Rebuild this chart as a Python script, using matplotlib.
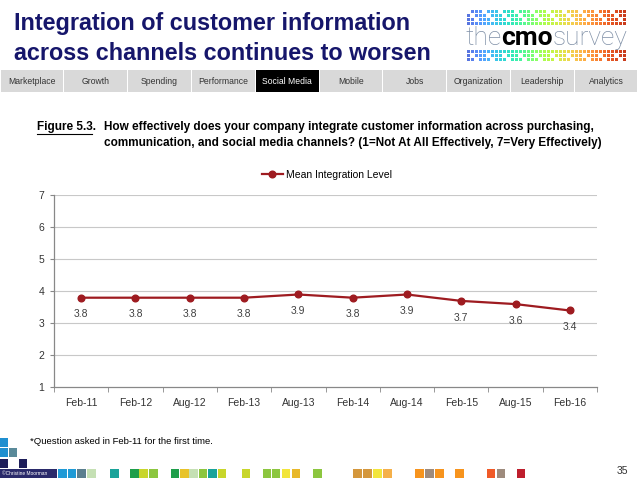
import matplotlib
matplotlib.use("Agg")
import matplotlib.pyplot as plt
from matplotlib.patches import Rectangle
import numpy as np

# ---------------- data ----------------
categories = ["Feb-11", "Feb-12", "Aug-12", "Feb-13", "Aug-13", "Feb-14",
              "Aug-14", "Feb-15", "Aug-15", "Feb-16"]
mean_integration = [3.8, 3.8, 3.8, 3.8, 3.9, 3.8, 3.9, 3.7, 3.6, 3.4]
series_name = "Mean Integration Level"
y_ticks = [1, 2, 3, 4, 5, 6, 7]
nav_items = ["Marketplace", "Growth", "Spending", "Performance", "Social Media",
             "Mobile", "Jobs", "Organization", "Leadership", "Analytics"]
active_nav = "Social Media"
title_lines = ["Integration of customer information",
               "across channels continues to worsen"]
fig_label = "Figure 5.3."
question_lines = ["How effectively does your company integrate customer information across purchasing,",
                  "communication, and social media channels? (1=Not At All Effectively, 7=Very Effectively)"]
footnote = "*Question asked in Feb-11 for the first time."
page_number = "35"

W, H = 638, 479
NARROW = ["Liberation Sans Narrow", "Liberation Sans", "DejaVu Sans"]
SANS = ["Liberation Sans", "DejaVu Sans"]

fig = plt.figure(figsize=(W / 100, H / 100), dpi=100)
fig.patch.set_facecolor("white")

# overlay axes in pixel coordinates
ov = fig.add_axes([0, 0, 1, 1], zorder=0)
ov.set_xlim(0, W)
ov.set_ylim(H, 0)
ov.axis("off")

# ---- title ----
navy = "#16166b"
ov.text(14, 23, title_lines[0], fontsize=16.8, fontweight="bold", color=navy,
        family=SANS, va="center", ha="left")
ov.text(14, 53, title_lines[1], fontsize=16.8, fontweight="bold", color=navy,
        family=SANS, va="center", ha="left")

# ---- logo ----
logo_cmap = matplotlib.colormaps["turbo"]
ncol = 40
for row, y0 in enumerate([10, 14, 18, 22, 50, 54, 58, 62]):
    for c in range(ncol):
        if (c * 7 + row * 5) % 4 == 0 and row not in (3, 4):
            continue
        if row in (0, 7) and (c * 3 + row) % 3 != 0:
            continue
        col = logo_cmap(0.12 + 0.8 * c / ncol)
        ov.add_patch(Rectangle((467 + c * 4.0, y0), 2.8, 2.8, color=col, lw=0, alpha=0.9))
RB = ["Roboto", "DejaVu Sans"]
ov.text(465, 38, "the", fontsize=19, color="#7f8fa6", family=RB,
        fontweight="light", va="center", ha="left")
ov.text(501, 38, "cmo", fontsize=19, color="black", family=RB,
        fontweight="bold", va="center", ha="left")
ov.text(553, 38, "survey", fontsize=19, color="#7f8fa6", family=RB,
        fontweight="light", va="center", ha="left")

# ---- nav bar ----
bw = W / len(nav_items)
for i, item in enumerate(nav_items):
    active = item == active_nav
    ov.add_patch(Rectangle((i * bw + 0.5, 70), bw - 1, 22,
                           color="black" if active else "#d9d9d9", lw=0))
    ov.text(i * bw + bw / 2, 81.5, item, fontsize=6.2, family=NARROW,
            color="white" if active else "#333333", ha="center", va="center")

# ---- caption ----
cap_fs = 8.5
ov.text(37, 127, fig_label, fontsize=cap_fs, fontweight="bold", family=NARROW,
        color="black", ha="left", va="center")
ov.plot([37, 92], [133.5, 133.5], color="black", lw=0.8)
ov.text(104, 127, question_lines[0], fontsize=cap_fs, fontweight="bold", family=NARROW,
        color="black", ha="left", va="center")
ov.text(104, 143, question_lines[1], fontsize=cap_fs, fontweight="bold", family=NARROW,
        color="black", ha="left", va="center")

# ---- footer ----
ov.text(30, 442, footnote, fontsize=6.8, family=NARROW, color="black",
        ha="left", va="center")
ov.text(622, 471, page_number, fontsize=7.5, family=SANS, color="#333333",
        ha="center", va="center")

# left decorative squares
left_sq = [(0, 438, "#1f8fd0"), (0, 448, "#1f8fd0"), (8.5, 448, "#5a8a9a"),
           (0, 459, "#1e1e5a"), (19, 459, "#1e1e5a")]
for x0, y0, c in left_sq:
    ov.add_patch(Rectangle((x0, y0), 8, 9, color=c, lw=0))
ov.add_patch(Rectangle((0, 469), 57, 9, color="#2a2a6a", lw=0))
ov.text(2, 473.5, "©Christine Moorman", fontsize=3.5, color="white", family=SANS,
        ha="left", va="center")

bottom_sq = [(58.3, "#1f9ad6"), (67.7, "#1f9ad6"), (77.3, "#5b7f8f"), (87.3, "#c5e0b4"),
             (110, "#1aa39a"), (130, "#1e9e4a"), (139.3, "#c8d62b"), (149, "#8cc63f"),
             (170.7, "#1e9e4a"), (180, "#e8c32a"), (189.3, "#c5e0b4"), (198.7, "#8cc63f"),
             (208.3, "#1aa39a"), (217.7, "#c8d62b"), (241.7, "#c8d62b"),
             (262.7, "#8cc63f"), (271.7, "#8cc63f"), (281.7, "#f2e53c"), (291.7, "#e8b82a"),
             (313.3, "#8cc63f"), (353.3, "#d4973c"), (363.3, "#d4973c"), (373.3, "#f2e53c"),
             (383.3, "#f5b04a"), (415, "#f7941d"), (425, "#9e8b7d"), (435, "#f7941d"),
             (455, "#f7941d"), (486.7, "#f05a28"), (496.7, "#9e8b7d"), (516.7, "#be1e2d")]
for x0, c in bottom_sq:
    ov.add_patch(Rectangle((x0, 469), 8.5, 9, color=c, lw=0))

# ---------------- chart ----------------
ax = fig.add_axes([54 / W, 1 - 387.3 / H, (597 - 54) / W, (387.3 - 195.3) / H], zorder=2)
ax.patch.set_alpha(0)
x = np.arange(len(categories))
line_color = "#9e1b20"
ax.plot(x, mean_integration, color=line_color, lw=1.6, marker="o", markersize=4.8,
        label=series_name, zorder=3)
for xi, v in zip(x, mean_integration):
    ax.annotate(f"{v:.1f}", (xi, v), xytext=(0, -12), textcoords="offset points",
                ha="center", va="center", fontsize=7.5, color="#404040", family=SANS)

ax.set_xlim(-0.5, len(categories) - 0.5)
ax.set_ylim(min(y_ticks), max(y_ticks))
ax.set_yticks(y_ticks)
ax.set_yticklabels([str(t) for t in y_ticks], fontsize=7.5, family=SANS, color="#333333")
ax.set_xticks(x)
ax.set_xticklabels(categories, fontsize=7.5, family=SANS, color="#333333")
ax.tick_params(axis="x", length=0, pad=8)
ax.set_xticks(np.arange(-0.5, len(categories), 1), minor=True)
ax.tick_params(axis="x", which="minor", length=3.5, color="#888888", direction="out")
ax.tick_params(axis="y", length=3, color="#888888", pad=4)
for t in y_ticks[1:]:
    ax.axhline(t, color="#c8c8c8", lw=0.8, zorder=1)
for s in ["top", "right"]:
    ax.spines[s].set_visible(False)
for s in ["left", "bottom"]:
    ax.spines[s].set_color("#888888")
    ax.spines[s].set_linewidth(0.9)

leg = fig.legend(loc="center", bbox_to_anchor=(327 / W, 1 - 175 / H), frameon=False,
                 prop={"family": SANS, "size": 7.5}, handlelength=2.0, handletextpad=0.3)

fig.savefig("out.png", dpi=100, facecolor="white")
